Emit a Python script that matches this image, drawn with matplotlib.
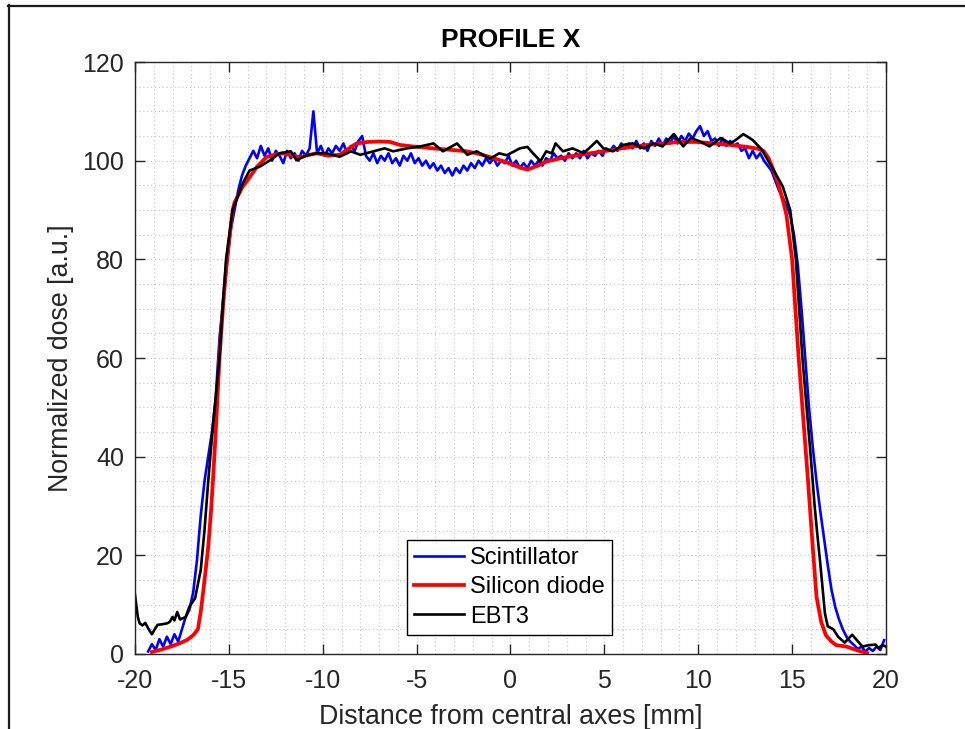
import numpy as np
import matplotlib.pyplot as plt
from matplotlib.lines import Line2D

plt.rcParams['font.family'] = ['Liberation Sans', 'DejaVu Sans']
plt.rcParams['axes.unicode_minus'] = False

# Scintillator profile, read every 0.2 mm from -19.3 to 19.9 mm
scint_x = np.round(np.arange(-19.3, 20.0, 0.2), 1)
scint_y = [0.5, 2.0, 0.8, 3.0, 1.5, 3.5, 2.0, 4.0, 2.5, 5.0,
           7.5, 9.0, 12.5, 19.0, 28.0, 35.0, 40.0, 45.0, 52.0, 64.0,
           72.0, 79.0, 86.0, 90.0, 94.0, 97.0, 99.0, 100.5, 102.0, 100.5,
           103.0, 101.0, 102.5, 100.0, 102.0, 101.0, 99.5, 102.0, 100.5, 101.5,
           100.0, 102.0, 101.0, 102.5, 110.0, 101.5, 103.0, 101.0, 102.5, 101.5,
           103.0, 102.0, 103.5, 101.5, 103.0, 102.0, 104.0, 105.0, 101.0, 100.0,
           101.5, 99.5, 101.0, 100.0, 101.5, 99.5, 100.5, 99.0, 101.0, 100.0,
           101.5, 99.5, 100.5, 99.0, 100.0, 98.5, 99.5, 98.0, 99.0, 97.5,
           98.5, 97.0, 98.5, 97.5, 99.0, 98.0, 99.5, 98.5, 100.0, 99.0,
           100.5, 99.5, 100.5, 99.0, 100.0, 99.5, 101.0, 99.0, 100.0, 98.5,
           99.5, 98.5, 100.0, 99.0, 100.0, 99.0, 100.5, 100.0, 101.5, 100.5,
           101.0, 100.0, 101.5, 100.5, 101.5, 100.5, 102.0, 100.5, 101.5, 101.0,
           102.0, 101.0, 102.5, 102.0, 103.0, 102.0, 103.5, 102.5, 103.5, 102.5,
           104.0, 102.5, 103.5, 102.0, 104.0, 103.0, 104.5, 103.0, 104.5, 103.5,
           105.0, 103.5, 105.0, 104.0, 105.5, 104.5, 106.0, 107.0, 105.0, 106.0,
           104.0, 104.5, 103.0, 104.5, 103.0, 104.0, 103.0, 103.5, 102.0, 102.5,
           100.5, 102.0, 100.5, 101.5, 100.0, 99.0, 98.0, 96.0, 94.0, 92.5,
           91.0, 89.0, 85.0, 79.0, 70.0, 60.0, 50.0, 42.0, 35.0, 29.0,
           23.5, 18.0, 13.0, 9.5, 7.0, 5.0, 3.5, 2.5, 1.8, 1.0,
           1.5, 0.5, 1.2, 0.6, 1.5, 0.8, 2.8]

# Silicon diode profile
diode_x = [-19.1, -18.6, -18.1, -17.6, -17.2, -16.9, -16.65, -16.5, -16.4, -16.25,
           -16.1, -15.95, -15.85, -15.7, -15.5, -15.3, -15.1, -14.8, -14.7, -14.3,
           -13.9, -13.5, -13.0, -12.5, -12.1, -11.6, -11.2, -10.7, -10.3, -9.7,
           -9.1, -8.6, -8.2, -7.6, -7.0, -6.4, -5.9, -5.0, -4.1, -3.2,
           -2.3, -1.6, -0.9, -0.3, 0.1, 0.5, 0.9, 1.4, 1.9, 2.8,
           3.7, 4.6, 5.45, 6.4, 7.3, 8.2, 9.0, 9.9, 10.8, 11.7,
           12.6, 13.2, 13.5, 13.75, 14.0, 14.25, 14.5, 14.7, 15.0, 15.35,
           15.75, 15.85, 16.1, 16.3, 16.55, 16.8, 17.1, 17.35, 17.9, 18.5,
           19.0]
diode_y = [0.4, 0.9, 1.5, 2.2, 2.9, 3.8, 5.0, 8.5, 11.6, 16.5,
           21.7, 29.0, 35.0, 45.0, 60.0, 71.0, 80.0, 90.0, 91.5, 94.5,
           96.6, 98.8, 100.7, 101.3, 101.5, 101.0, 100.7, 101.2, 101.5, 101.0,
           101.2, 102.5, 103.5, 103.8, 103.9, 103.8, 103.2, 102.8, 102.5, 102.2,
           101.9, 101.3, 100.5, 99.8, 99.2, 98.6, 98.2, 98.9, 99.8, 100.6,
           101.2, 101.7, 102.2, 102.8, 103.2, 103.5, 103.8, 103.8, 103.5, 103.2,
           102.8, 102.4, 101.9, 100.5, 98.2, 95.5, 92.1, 89.0, 80.0, 60.0,
           40.0, 35.0, 21.7, 11.6, 6.5, 3.8, 2.5, 1.8, 1.5, 0.7,
           0.2]

# EBT3 film profile
ebt3_x = [-20.0, -19.85, -19.75, -19.6, -19.45, -19.3, -19.1, -18.95, -18.8, -18.6,
          -18.3, -18.15, -18.0, -17.9, -17.75, -17.6, -17.3, -17.1, -16.8, -16.5,
          -16.3, -16.1, -15.9, -15.7, -15.5, -15.3, -15.15, -14.8, -14.6, -14.25,
          -13.9, -13.35, -12.8, -12.3, -11.7, -11.4, -10.85, -10.3, -9.8, -9.1,
          -8.5, -8.0, -7.3, -6.7, -6.25, -5.5, -4.8, -4.1, -3.6, -2.85,
          -2.3, -1.8, -1.1, -0.6, -0.2, 0.5, 0.9, 1.2, 1.6, 1.9,
          2.2, 2.4, 2.8, 3.3, 3.9, 4.6, 4.95, 5.45, 6.0, 6.5,
          7.1, 7.6, 8.1, 8.7, 9.2, 9.6, 10.1, 10.6, 11.2, 11.7,
          12.0, 12.4, 12.9, 13.4, 13.6, 14.0, 14.5, 14.9, 15.2, 15.55,
          15.95, 16.1, 16.2, 16.35, 16.5, 16.75, 16.9, 17.2, 17.45, 17.8,
          18.2, 18.45, 18.75, 19.1, 19.45, 19.6, 19.8, 20.0]
ebt3_y = [12.0, 7.5, 6.2, 5.8, 6.3, 5.2, 4.0, 5.0, 5.9, 6.0,
          6.2, 6.5, 7.5, 6.8, 8.5, 7.0, 7.5, 9.6, 11.3, 17.0,
          25.0, 35.0, 44.0, 52.0, 60.0, 72.0, 80.0, 90.0, 92.0, 95.5,
          98.0, 98.8, 100.1, 101.5, 101.9, 100.1, 101.1, 101.5, 101.5, 100.8,
          101.9, 101.2, 101.9, 102.5, 101.9, 102.5, 102.9, 103.5, 101.9, 103.5,
          101.2, 101.9, 100.4, 101.5, 101.1, 102.5, 102.8, 101.5, 99.9, 101.9,
          101.5, 103.5, 101.9, 102.5, 101.5, 104.0, 102.5, 101.9, 103.2, 103.5,
          102.5, 103.5, 102.9, 105.4, 102.9, 104.6, 103.9, 102.9, 104.6, 103.5,
          104.2, 105.4, 104.2, 102.2, 100.8, 98.2, 94.8, 90.0, 80.0, 60.0,
          42.0, 35.0, 30.0, 24.0, 18.4, 8.2, 5.6, 5.0, 3.5, 2.3,
          3.9, 2.8, 1.5, 1.8, 1.9, 1.2, 1.8, 1.5]

x_ticks = [-20, -15, -10, -5, 0, 5, 10, 15, 20]
y_ticks = [0, 20, 40, 60, 80, 100, 120]

axcol = '#262626'

fig = plt.figure(figsize=(9.65, 7.29), dpi=100)
ax = fig.add_axes([0.1399, 0.1029, 0.7782, 0.812])

ax.plot(scint_x, scint_y, '-', color='#0000ff', lw=1.9, label='Scintillator')
ax.plot(diode_x, diode_y, '-', color='#ff0000', lw=2.7, label='Silicon diode')
ax.plot(ebt3_x, ebt3_y, '-', color='black', lw=1.9, label='EBT3')

ax.set_xlim(-20, 20)
ax.set_ylim(0, 120)
ax.set_xticks(x_ticks, labels=[str(t) for t in x_ticks])
ax.set_yticks(y_ticks, labels=[str(t) for t in y_ticks])
ax.set_xticks(np.arange(-20, 21, 1), minor=True)
ax.set_yticks(np.arange(0, 121, 5), minor=True)
ax.tick_params(which='major', direction='in', length=7, width=1, colors=axcol,
               labelsize=18, top=True, right=True)
ax.tick_params(axis='x', which='major', pad=11)
ax.tick_params(axis='y', which='major', pad=8)
ax.tick_params(which='minor', length=0, top=True, right=True)
ax.grid(which='both', color='#c4c4c4', lw=0.8, linestyle=(0, (1, 2.5)))
ax.set_axisbelow(True)
for s in ax.spines.values():
    s.set_color(axcol)
    s.set_linewidth(1)

ax.set_title('PROFILE X', fontsize=19, fontweight='bold', pad=11)
ax.set_xlabel('Distance from central axes [mm]', fontsize=19.3, color=axcol, labelpad=8)
ax.set_ylabel('Normalized dose [a.u.]', fontsize=19.3, color=axcol, labelpad=6)

leg = ax.legend(loc='center', bbox_to_anchor=(0.4988, 0.1124), fontsize=17,
                fancybox=False, framealpha=1, edgecolor='black',
                handlelength=2.1, handletextpad=0.25, labelspacing=0.3,
                borderpad=0.3, borderaxespad=0)
leg.get_frame().set_linewidth(1)

# Screenshot frame around the figure
fig.add_artist(Line2D([8 / 965, 1], [1 - 5.5 / 729] * 2, transform=fig.transFigure,
                      color='#1a1a1a', lw=1.6))
fig.add_artist(Line2D([8.5 / 965] * 2, [0, 1 - 5 / 729], transform=fig.transFigure,
                      color='#1a1a1a', lw=1.6))

fig.savefig('out.png', dpi=100)
